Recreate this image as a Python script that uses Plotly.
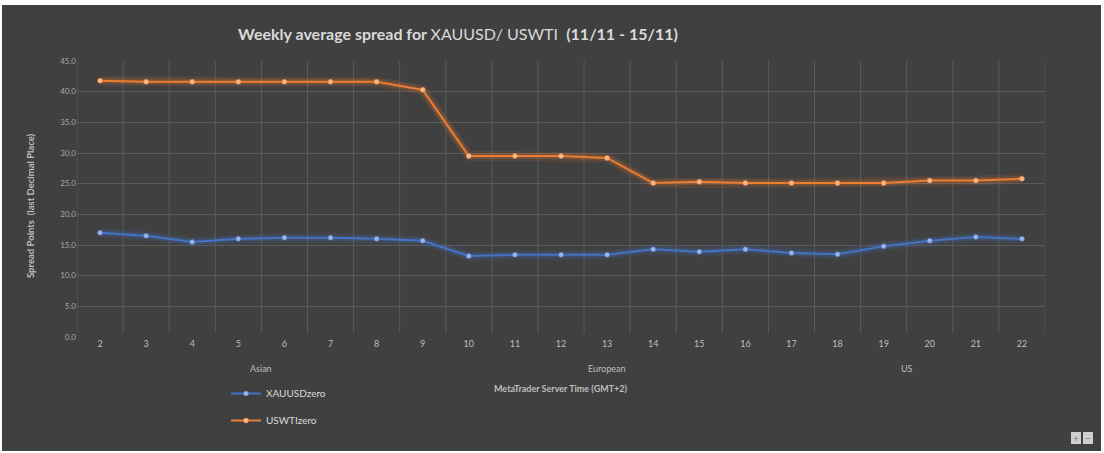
import plotly.graph_objects as go

hours = list(range(2, 23))
xauusd = [17.0, 16.5, 15.5, 16.0, 16.2, 16.2, 16.0, 15.7, 13.2, 13.4, 13.4, 13.4,
          14.3, 13.9, 14.3, 13.7, 13.5, 14.8, 15.7, 16.3, 16.0]
uswti = [41.8, 41.6, 41.6, 41.6, 41.6, 41.6, 41.6, 40.3, 29.5, 29.5, 29.5, 29.2,
         25.1, 25.3, 25.1, 25.1, 25.1, 25.1, 25.5, 25.5, 25.8]
sessions = ["Asian", "European", "US"]
session_pos = [5.5, 13, 19.5]
y_ticks = [0, 5, 10, 15, 20, 25, 30, 35, 40, 45]

BG = "#404040"
GRID = "#5a5a5a"
BLUE = "#4472C4"
ORANGE = "#ED7D31"
FONT = "Lato"

fig = go.Figure()

series = [("XAUUSDzero", xauusd, BLUE, "#9db6e6", "g1"),
          ("USWTIzero", uswti, ORANGE, "#f7b98a", "g2")]
# glow
for name, vals, col, mcol, grp in series:
    for w, op in [(10, 0.10), (6, 0.18)]:
        fig.add_trace(go.Scatter(x=hours, y=vals, mode="lines",
                                 line=dict(color=col, width=w), opacity=op,
                                 showlegend=False, hoverinfo="skip"))
for name, vals, col, mcol, grp in series:
    fig.add_trace(go.Scatter(x=hours, y=vals, mode="lines+markers", name=name,
                             legendgroup=grp,
                             line=dict(color=col, width=2),
                             marker=dict(size=5, color=mcol, line=dict(color=col, width=0.5))))

# plot area: x 77..1045, y 61..337
L, R, T, B = 77, 1045, 61, 337
W, H = R - L, B - T
def px(x):
    return (x - L) / W
def py(y):
    return (B - y) / H

shapes = [dict(type="rect", xref="paper", yref="paper", layer="below",
               x0=px(2), x1=px(1101), y0=py(451), y1=py(5),
               fillcolor=BG, line=dict(width=0))]
# vertical category gridlines
for b in [h - 0.5 for h in hours] + [hours[-1] + 0.5]:
    shapes.append(dict(type="line", xref="x", yref="paper", layer="below",
                       x0=b, x1=b, y0=py(333), y1=1,
                       line=dict(color=GRID, width=1)))
# zoom buttons
for x0 in (1071, 1083):
    shapes.append(dict(type="rect", xref="paper", yref="paper",
                       x0=px(x0), x1=px(x0 + 10), y0=py(444), y1=py(432),
                       fillcolor="#cfcfcf", line=dict(width=0)))

annotations = []
for s, p in zip(sessions, session_pos):
    annotations.append(dict(x=p, y=py(368), xref="x", yref="paper", text=s,
                            xanchor="center", yanchor="middle",
                            showarrow=False, font=dict(size=9, color="#bfbfbf", family=FONT)))
annotations.append(dict(x=0.5, y=py(388), xref="paper", yref="paper",
                        xanchor="center", yanchor="middle",
                        text="<b>MetaTrader Server Time (GMT+2)</b>", showarrow=False,
                        font=dict(size=9, color="#bfbfbf", family=FONT)))
annotations.append(dict(x=px(30), y=py(206), xref="paper", yref="paper", textangle=-90,
                        xanchor="center", yanchor="middle",
                        text="<b>Spread Points  (last Decimal Place)</b>", showarrow=False,
                        font=dict(size=9.5, color="#bfbfbf", family=FONT)))
for x0, t in ((1076, "+"), (1088, "−")):
    annotations.append(dict(x=px(x0), y=py(438), xref="paper", yref="paper", text=t,
                            xanchor="center", yanchor="middle",
                            showarrow=False, font=dict(size=10, color="#7a7a7a", family=FONT)))

fig.update_layout(
    width=1104, height=453,
    margin=dict(l=L, r=1104 - R, t=T, b=453 - B),
    paper_bgcolor="white",
    plot_bgcolor="rgba(0,0,0,0)",
    title=dict(text="<b>Weekly average spread for </b>XAUUSD/ USWTI&nbsp;&nbsp;<b>(11/11 - 15/11)</b>",
               x=px(458), xref="paper", xanchor="center",
               y=1 - 34 / 453, yanchor="middle",
               font=dict(size=16, color="#d9d9d9", family=FONT)),
    xaxis=dict(range=[1.5, 22.5], tickvals=hours, ticktext=[str(h) for h in hours],
               showgrid=False, zeroline=False, showline=False, ticks="",
               tickfont=dict(size=9, color="#bfbfbf", family=FONT)),
    yaxis=dict(range=[0, 45], tickvals=y_ticks, ticktext=[f"{v:.1f}" for v in y_ticks],
               showgrid=True, gridcolor=GRID, gridwidth=1, zeroline=False, showline=False,
               ticks="", tickfont=dict(size=8, color="#a6a6a6", family=FONT)),
    legend=dict(x=px(226), y=py(379), xanchor="left", yanchor="top",
                bgcolor="rgba(0,0,0,0)", tracegroupgap=8,
                font=dict(size=10, color="#d9d9d9", family=FONT)),
    shapes=shapes,
    annotations=annotations,
    showlegend=True,
)

fig.write_html("out.html")
